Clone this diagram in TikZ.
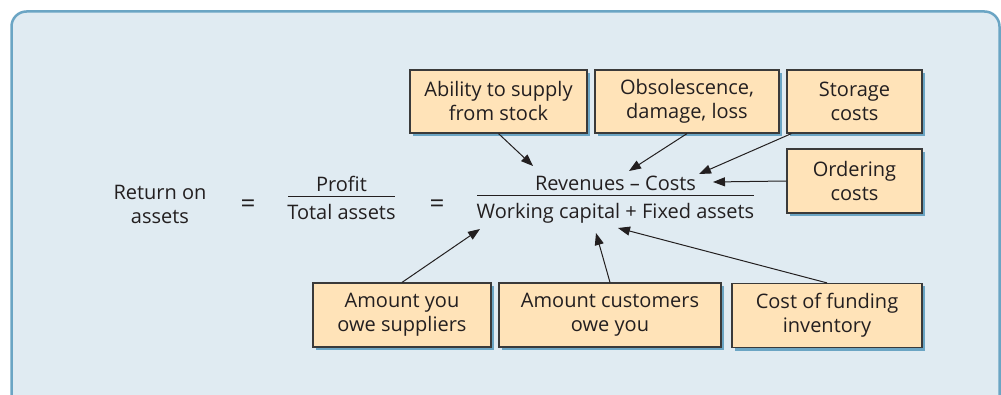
\documentclass[tikz,border=0pt]{standalone}
\usepackage{fontspec}
\setmainfont{Open Sans}
\usetikzlibrary{arrows.meta,calc,shadows}
\definecolor{framefill}{HTML}{E0EBF2}
\definecolor{frameline}{HTML}{6BA5C4}
\definecolor{boxfill}{HTML}{FFE3B8}
\definecolor{boxline}{HTML}{3A3A3A}
\definecolor{ink}{HTML}{231F20}
\tikzset{
  box/.style={draw=boxline, line width=1.2pt, fill=boxfill, align=center,
    inner sep=0pt, text=ink,
    drop shadow={shadow xshift=3pt, shadow yshift=-3pt, fill=frameline, opacity=1}},
  arr/.style={draw=ink, line width=1pt, -{Triangle[length=12pt,width=9pt]}},
  txt/.style={text=ink, inner sep=0pt},
  eq/.style={text=ink, inner sep=0pt, font=\fontsize{26}{30}\selectfont},
  fracline/.style={draw=ink, line width=0.9pt}
}
\begin{document}
\begin{tikzpicture}[x=1pt,y=-1pt,font=\fontsize{20}{24}\selectfont]
\useasboundingbox (0,0) rectangle (1001,395);
\fill[white] (0,0) rectangle (1001,395);
\clip (0,0) rectangle (1001,395);
\draw[fill=framefill, draw=frameline, line width=2.5pt, rounded corners=15pt] (11.5,11.5) rectangle (999.5,460);

% boxes
\node[box, minimum width=177pt, minimum height=63pt] (b1) at (498.5,101.5) {Ability to supply\\from stock};
\node[box, minimum width=184pt, minimum height=63pt] (b2) at (687,101.5) {Obsolescence,\\damage, loss};
\node[box, minimum width=135pt, minimum height=63pt] (b3) at (854.5,101.5) {Storage\\costs};
\node[box, minimum width=135pt, minimum height=64pt] (b4) at (854.5,181) {Ordering\\costs};
\node[box, minimum width=178pt, minimum height=64pt] (b5) at (402,315) {Amount you\\owe suppliers};
\node[box, minimum width=222pt, minimum height=64pt] (b6) at (610,315) {Amount customers\\owe you};
\node[box, minimum width=190pt, minimum height=64pt] (b7) at (827,315.5) {Cost of funding\\inventory};

% formula
\node[txt, align=center] (roa) at (160,204) {Return on\\assets};
\node[eq] (eq1) at (248,206) {=};
\node[txt, anchor=base] (profit) at (341.5,192) {Profit};
\node[txt, anchor=base] (tassets) at (341.5,220) {Total assets};
\coordinate (f1l) at (288,196);
\coordinate (f1r) at (395,196);
\draw[fracline] (f1l) -- (f1r);
\node[eq] (eq2) at (437,206) {=};
\node[txt, anchor=base] (rev) at (615.5,191) {Revenues – Costs};
\node[txt, anchor=base] (wc) at (615.5,219) {Working capital + Fixed assets};
\coordinate (f2l) at (477,195.5);
\coordinate (f2r) at (754,195.5);
\draw[fracline] (f2l) -- (f2r);

% arrow heads
\coordinate (h1) at (533,166);
\coordinate (h2) at (629,171);
\coordinate (h3) at (699,174);
\coordinate (h4) at (713,182);
\coordinate (h5) at (480,229);
\coordinate (h6) at (596,233);
\coordinate (h7) at (618,228);
\coordinate (t3) at ($(b3.south west)+(5,0)$);

\draw[arr] (b1.south) -- (h1);
\draw[arr] (b2.south) -- (h2);
\draw[arr] (t3) -- (h3);
\draw[arr] (b4.west) -- (h4);
\draw[arr] (b5.north) -- (h5);
\draw[arr] (b6.north) -- (h6);
\draw[arr] (b7.north) -- (h7);
\end{tikzpicture}
\end{document}
